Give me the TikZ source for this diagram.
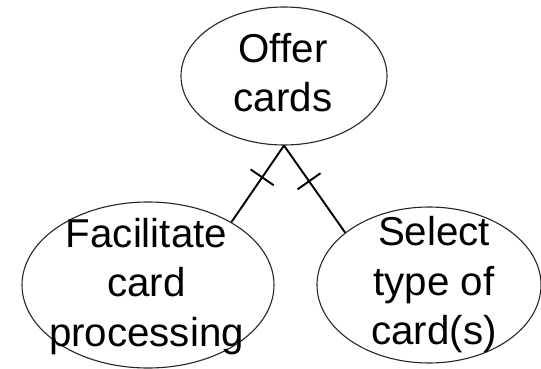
\documentclass[tikz,border=0pt]{standalone}
\usepackage{fontspec}
\setmainfont{Liberation Sans}
\usetikzlibrary{shapes.geometric,calc}
\begin{document}
\begin{tikzpicture}[x=1pt,y=-1pt,
  goal/.style={draw=black!85,line width=1.1pt,ellipse,inner sep=0pt},
  label/.style={align=center,inner sep=0pt,font=\fontsize{40.3}{49.5}\selectfont},
  link/.style={draw=black,line width=1.9pt},
  tickmark/.style={draw=black,line width=1.9pt}]
  \useasboundingbox (0,0) rectangle (541,369);
  % goal ellipses
  \node[goal,minimum width=206pt,minimum height=138pt] (top) at (284,76) {};
  \node[goal,minimum width=252pt,minimum height=166pt] (left) at (148,285) {};
  \node[goal,minimum width=224pt,minimum height=156pt] (right) at (429,285) {};
  % goal texts
  \node[label] (toptext) at (283,72.8) {Offer\\cards};
  \node[label] (lefttext) at (146.5,286.4) {Facilitate\\card\\processing};
  \node[label] (righttext) at (434,284.6) {Select\\type of\\card(s)};
  % decomposition links with tick marks
  \draw[link] (top.south) -- (left.37) coordinate[pos=0.415] (t1);
  \draw[link] (top.south) -- (right.148.5) coordinate[pos=0.41] (t2);
  \draw[tickmark] ($(t1)!14pt!90:(top.south)$) -- ($(t1)!14pt!-90:(top.south)$);
  \draw[tickmark] ($(t2)!14pt!90:(top.south)$) -- ($(t2)!14pt!-90:(top.south)$);
\end{tikzpicture}
\end{document}
